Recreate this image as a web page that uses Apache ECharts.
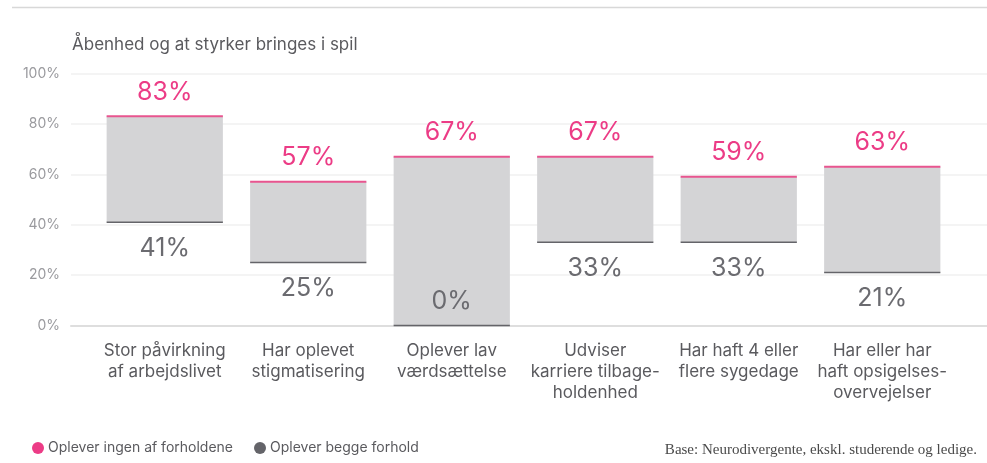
<!DOCTYPE html>
<html>
<head>
<meta charset="utf-8">
<script src="https://cdn.jsdelivr.net/npm/echarts@6/dist/echarts.min.js"></script>
<style>
  html, body { margin: 0; padding: 0; background: #fff; }
  #chart { width: 987px; height: 463px; }
</style>
</head>
<body>
<div id="chart"></div>
<script>
// Categories and the two measured shares (percent) per category
const categories = [
  'Stor påvirkning\naf arbejdslivet',
  'Har oplevet\nstigmatisering',
  'Oplever lav\nværdsættelse',
  'Udviser\nkarriere tilbage-\nholdenhed',
  'Har haft 4 eller\nflere sygedage',
  'Har eller har\nhaft opsigelses-\novervejelser'
];
const ingenValues = [83, 57, 67, 67, 59, 63];   // Oplever ingen af forholdene
const beggeValues = [41, 25, 0, 33, 33, 21];    // Oplever begge forhold
const yTicks = [0, 20, 40, 60, 80, 100];

const PINK = '#ec3c86';
const PINK_LINE = '#e8558f';
const DARK = '#646469';
const FILL = '#d4d4d6';
const LABEL_GREY = '#6b6b70';
const FONT = 'Inter, "Noto Sans", sans-serif';

const chart = echarts.init(document.getElementById('chart'), null, { renderer: 'canvas' });

const gridTop = 73.5, gridBottom = 463 - 325.5;

chart.setOption({
  backgroundColor: '#fff',
  animation: false,
  title: {
    text: 'Åbenhed og at styrker bringes i spil',
    left: 67, top: 31,
    textStyle: { fontFamily: FONT, fontSize: 17, fontWeight: 'normal', color: '#5a5a5e' }
  },
  legend: {
    left: 27, top: 436,
    icon: 'circle', itemWidth: 12, itemHeight: 12, itemGap: 21,
    selectedMode: false,
    textStyle: { fontFamily: FONT, fontSize: 14, color: '#5a5a5e', padding: [0, 0, 0, -1] },
    data: [
      { name: 'Oplever ingen af forholdene', itemStyle: { color: PINK } },
      { name: 'Oplever begge forhold', itemStyle: { color: DARK } }
    ]
  },
  graphic: [
    {
      type: 'line', silent: true,
      shape: { x1: 12, y1: 7.5, x2: 987, y2: 7.5 },
      style: { stroke: '#d8d8d8', lineWidth: 1.5 }
    },
    {
      type: 'text', right: 10, top: 443,
      style: {
        text: 'Base: Neurodivergente, ekskl. studerende og ledige.',
        font: '15px "Liberation Serif", "DejaVu Serif", serif',
        fill: '#4a4a4a'
      }
    }
  ],
  grid: [
    { left: 71, right: 0, top: gridTop, bottom: gridBottom },
    { left: 93, right: 33, top: gridTop, bottom: gridBottom }
  ],
  xAxis: [
    {
      type: 'value', gridIndex: 0, min: 0, max: 1,
      axisLine: { show: true, lineStyle: { color: '#dedede', width: 2 } },
      axisTick: { show: false }, axisLabel: { show: false }, splitLine: { show: false }
    },
    {
      type: 'category', gridIndex: 1, data: categories,
      axisLine: { show: false }, axisTick: { show: false },
      axisLabel: {
        interval: 0, margin: 15,
        fontFamily: FONT, fontSize: 17, lineHeight: 21, color: '#5a5a5e'
      }
    }
  ],
  yAxis: [
    {
      type: 'value', gridIndex: 0, min: yTicks[0], max: yTicks[yTicks.length - 1], interval: 20,
      axisLine: { show: false }, axisTick: { show: false },
      axisLabel: {
        margin: 11, fontFamily: FONT, fontSize: 14, color: '#9a9a9e',
        formatter: v => v + '%'
      },
      splitLine: { lineStyle: { color: '#f1f1f1', width: 1.5 } }
    },
    {
      type: 'value', gridIndex: 1, min: 0, max: 100, show: false
    }
  ],
  series: [
    {
      name: 'Oplever ingen af forholdene',
      type: 'custom',
      xAxisIndex: 1, yAxisIndex: 1,
      clip: false,
      itemStyle: { color: PINK },
      data: categories.map((c, i) => [i, ingenValues[i], beggeValues[i]]),
      renderItem: function (params, api) {
        const i = api.value(0), hi = api.value(1), lo = api.value(2);
        const pHi = api.coord([i, hi]);
        const pLo = api.coord([i, lo]);
        const w = api.size([1, 0])[0] * 0.81;
        const x0 = pHi[0] - w / 2;
        return {
          type: 'group',
          children: [
            {
              type: 'rect',
              shape: { x: x0, y: pHi[1], width: w, height: pLo[1] - pHi[1] },
              style: { fill: FILL }
            },
            {
              type: 'line',
              shape: { x1: x0, y1: pHi[1], x2: x0 + w, y2: pHi[1] },
              style: { stroke: PINK_LINE, lineWidth: 2 }
            },
            {
              type: 'text',
              style: {
                text: hi + '%', x: pHi[0], y: pHi[1] - 24,
                align: 'center', verticalAlign: 'middle',
                font: '25px ' + FONT, fill: PINK
              }
            }
          ]
        };
      }
    },
    {
      name: 'Oplever begge forhold',
      type: 'custom',
      xAxisIndex: 1, yAxisIndex: 1,
      clip: false,
      itemStyle: { color: DARK },
      data: categories.map((c, i) => [i, beggeValues[i]]),
      renderItem: function (params, api) {
        const i = api.value(0), lo = api.value(1);
        const p = api.coord([i, lo]);
        const w = api.size([1, 0])[0] * 0.81;
        const x0 = p[0] - w / 2;
        // A zero share sits on the axis, so its label goes inside the bar
        const labelY = lo === 0 ? p[1] - 24 : p[1] + 26;
        return {
          type: 'group',
          children: [
            {
              type: 'line',
              shape: { x1: x0, y1: p[1], x2: x0 + w, y2: p[1] },
              style: { stroke: DARK, lineWidth: 1.5 }
            },
            {
              type: 'text',
              style: {
                text: lo + '%', x: p[0], y: labelY,
                align: 'center', verticalAlign: 'middle',
                font: '25px ' + FONT, fill: LABEL_GREY
              }
            }
          ]
        };
      }
    }
  ]
});
</script>
</body>
</html>
